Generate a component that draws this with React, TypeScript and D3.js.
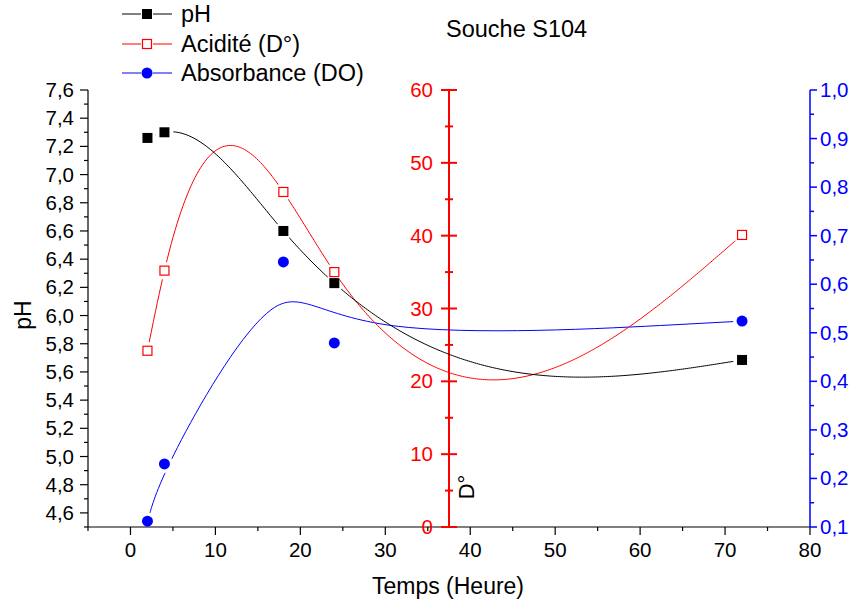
import React from "react";
import * as d3 from "d3";

const times = [2, 4, 18, 24, 72];
const phValues = [7.26, 7.3, 6.6, 6.23, 5.685];
const acidValues = [24.2, 35.2, 46.0, 35.0, 40.1];
const absValues = [0.112, 0.23, 0.646, 0.479, 0.524];

const xTicks = [0, 10, 20, 30, 40, 50, 60, 70, 80];
const phTicks = [4.6, 4.8, 5.0, 5.2, 5.4, 5.6, 5.8, 6.0, 6.2, 6.4, 6.6, 6.8, 7.0, 7.2, 7.4, 7.6];
const acidTicks = [0, 10, 20, 30, 40, 50, 60];
const absTicks = [0.1, 0.2, 0.3, 0.4, 0.5, 0.6, 0.7, 0.8, 0.9, 1.0];

const W = 854, H = 603;
const FONT = "Liberation Sans, Arial, sans-serif";
const TICK_FS = 20.5;

function naturalSpline(xs: number[], ys: number[], steps = 300): [number, number][] {
  const n = xs.length;
  const h: number[] = [];
  for (let i = 0; i < n - 1; i++) h.push(xs[i + 1] - xs[i]);
  const a: number[] = new Array(n).fill(0);
  const b: number[] = new Array(n).fill(1);
  const c: number[] = new Array(n).fill(0);
  const d: number[] = new Array(n).fill(0);
  for (let i = 1; i < n - 1; i++) {
    a[i] = h[i - 1];
    b[i] = 2 * (h[i - 1] + h[i]);
    c[i] = h[i];
    d[i] = 6 * ((ys[i + 1] - ys[i]) / h[i] - (ys[i] - ys[i - 1]) / h[i - 1]);
  }
  const cp = new Array(n).fill(0);
  const dp = new Array(n).fill(0);
  cp[0] = c[0] / b[0];
  dp[0] = d[0] / b[0];
  for (let i = 1; i < n; i++) {
    const m = b[i] - a[i] * cp[i - 1];
    cp[i] = c[i] / m;
    dp[i] = (d[i] - a[i] * dp[i - 1]) / m;
  }
  const M = new Array(n).fill(0);
  M[n - 1] = dp[n - 1];
  for (let i = n - 2; i >= 0; i--) M[i] = dp[i] - cp[i] * M[i + 1];
  const out: [number, number][] = [];
  const x0 = xs[0], x1 = xs[n - 1];
  for (let s = 0; s <= steps; s++) {
    const x = x0 + ((x1 - x0) * s) / steps;
    let i = 0;
    while (i < n - 2 && x > xs[i + 1]) i++;
    const hi = h[i];
    const t1 = xs[i + 1] - x, t0 = x - xs[i];
    const y =
      (M[i] * t1 * t1 * t1) / (6 * hi) +
      (M[i + 1] * t0 * t0 * t0) / (6 * hi) +
      (ys[i] / hi - (M[i] * hi) / 6) * t1 +
      (ys[i + 1] / hi - (M[i + 1] * hi) / 6) * t0;
    out.push([x, y]);
  }
  return out;
}

const fmt = (v: number, dec: number) => v.toFixed(dec).replace(".", ",");

export default function App() {
  const x = d3.scaleLinear().domain([-5, 80]).range([88, 810]);
  const yPh = d3.scaleLinear().domain([4.5, 7.6]).range([527, 90]);
  const yAc = d3.scaleLinear().domain([0, 60]).range([527, 90]);
  const yAb = d3.scaleLinear().domain([0.1, 1.0]).range([527, 90]);
  const redAxisX = x(37.5);

  const phCurve = naturalSpline(times, phValues);
  const acCurve = naturalSpline(times, acidValues);
  const absPts: [number, number][] = times.map((t, i) => [t, absValues[i]]);

  const linePh = d3.line<[number, number]>().x(d => x(d[0])).y(d => yPh(d[1]));
  const lineAc = d3.line<[number, number]>().x(d => x(d[0])).y(d => yAc(d[1]));
  const lineAb = d3.line<[number, number]>().x(d => x(d[0])).y(d => yAb(d[1])).curve(d3.curveBasis);

  const gap = 9;
  const mask = (id: string, ys: (v: number) => number, vals: number[]) => (
    <mask id={id} maskUnits="userSpaceOnUse" x={0} y={0} width={W} height={H}>
      <rect x={0} y={0} width={W} height={H} fill="white" />
      {times.map((t, i) => (
        <circle key={i} cx={x(t)} cy={ys(vals[i])} r={gap} fill="black" />
      ))}
    </mask>
  );

  const xMinor = d3.range(-5, 81, 5);
  const phMinor = d3.range(45, 77).map(v => v / 10);
  const acMinor = d3.range(0, 61, 5);
  const abMinor = d3.range(2, 21).map(v => v / 20);

  return (
    <svg width={W} height={H} style={{ position: "absolute", left: 0, top: 0, background: "white" }} fontFamily={FONT}>
      <defs>
        {mask("mPh", yPh, phValues)}
        {mask("mAc", yAc, acidValues)}
        {mask("mAb", yAb, absValues)}
      </defs>
      <rect x={0} y={0} width={W} height={H} fill="white" />

      {/* Bottom axis */}
      <line x1={88} x2={810} y1={527} y2={527} stroke="black" strokeWidth={1.2} />
      {xMinor.map(v => (
        <line key={"xm" + v} x1={x(v)} x2={x(v)} y1={527} y2={v % 10 === 0 ? 535 : 531} stroke="black" strokeWidth={1.2} />
      ))}
      {xTicks.map(v => (
        <text key={"xt" + v} x={x(v)} y={557} fontSize={TICK_FS} textAnchor="middle" fill="black">{v}</text>
      ))}
      <text x={448} y={594} fontSize={23} textAnchor="middle" fill="black">Temps (Heure)</text>

      {/* Left pH axis */}
      <line x1={88} x2={88} y1={90} y2={527} stroke="black" strokeWidth={1.2} />
      {phMinor.map(v => (
        <line key={"pm" + v} x1={88} x2={Math.round(v * 10) % 2 === 0 ? 80 : 84} y1={yPh(v)} y2={yPh(v)} stroke="black" strokeWidth={1.2} />
      ))}
      {phTicks.map(v => (
        <text key={"pt" + v} x={74} y={yPh(v) + 7} fontSize={TICK_FS} textAnchor="end" fill="black">{fmt(v, 1)}</text>
      ))}
      <text transform={`translate(31,315) rotate(-90)`} fontSize={23} textAnchor="middle" fill="black">pH</text>

      {/* Red acidity axis */}
      <line x1={redAxisX} x2={redAxisX} y1={90} y2={527} stroke="#ff0000" strokeWidth={2} />
      {acMinor.map(v => {
        const major = v % 10 === 0;
        return (
          <line key={"am" + v} x1={redAxisX - (major ? 8 : 4)} x2={redAxisX + (major ? 8 : 4)} y1={yAc(v)} y2={yAc(v)} stroke="#ff0000" strokeWidth={2} />
        );
      })}
      {acidTicks.map(v => (
        <text key={"at" + v} x={redAxisX - 16} y={yAc(v) + 7} fontSize={TICK_FS} textAnchor="end" fill="#ff0000">{v}</text>
      ))}
      <text transform={`translate(474,487) rotate(-90)`} fontSize={22} textAnchor="middle" fill="black">D°</text>

      {/* Right absorbance axis */}
      <line x1={810} x2={810} y1={90} y2={527} stroke="#0000ff" strokeWidth={1.5} />
      {abMinor.map(v => {
        const major = Math.round(v * 20) % 2 === 0;
        return (
          <line key={"bm" + v} x1={810} x2={major ? 817 : 814} y1={yAb(v)} y2={yAb(v)} stroke="#0000ff" strokeWidth={1.5} />
        );
      })}
      {absTicks.map(v => (
        <text key={"bt" + v} x={820} y={yAb(v) + 7} fontSize={TICK_FS} textAnchor="start" fill="#0000ff">{fmt(v, 1)}</text>
      ))}

      {/* Curves */}
      <path d={lineAb(absPts) || ""} fill="none" stroke="#0000ff" strokeWidth={1} mask="url(#mAb)" />
      <path d={lineAc(acCurve) || ""} fill="none" stroke="#ff0000" strokeWidth={1} mask="url(#mAc)" />
      <path d={linePh(phCurve) || ""} fill="none" stroke="black" strokeWidth={1} mask="url(#mPh)" />

      {/* Markers */}
      {times.map((t, i) => (
        <rect key={"pk" + i} x={x(t) - 5} y={yPh(phValues[i]) - 5} width={10} height={10} fill="black" />
      ))}
      {times.map((t, i) => (
        <rect key={"ak" + i} x={x(t) - 4.5} y={yAc(acidValues[i]) - 4.5} width={9} height={9} fill="white" stroke="#ff0000" strokeWidth={1.2} />
      ))}
      {times.map((t, i) => (
        <circle key={"bk" + i} cx={x(t)} cy={yAb(absValues[i])} r={5.5} fill="#0000ff" />
      ))}

      {/* Legend */}
      <line x1={122} x2={141} y1={14} y2={14} stroke="black" strokeWidth={1} />
      <line x1={153} x2={172} y1={14} y2={14} stroke="black" strokeWidth={1} />
      <rect x={142} y={9} width={10} height={10} fill="black" />
      <text x={181} y={22} fontSize={23.5} fill="black">pH</text>

      <line x1={122} x2={141} y1={44} y2={44} stroke="#ff0000" strokeWidth={1} />
      <line x1={153} x2={172} y1={44} y2={44} stroke="#ff0000" strokeWidth={1} />
      <rect x={142.5} y={39.5} width={9} height={9} fill="white" stroke="#ff0000" strokeWidth={1.2} />
      <text x={181} y={52} fontSize={23.5} fill="black">Acidité (D°)</text>

      <line x1={122} x2={141} y1={73} y2={73} stroke="#0000ff" strokeWidth={1} />
      <line x1={153} x2={172} y1={73} y2={73} stroke="#0000ff" strokeWidth={1} />
      <circle cx={147} cy={73} r={5.5} fill="#0000ff" />
      <text x={181} y={81} fontSize={23.5} fill="black">Absorbance (DO)</text>

      <text x={446} y={37} fontSize={23.5} fill="black">Souche S104</text>
    </svg>
  );
}
